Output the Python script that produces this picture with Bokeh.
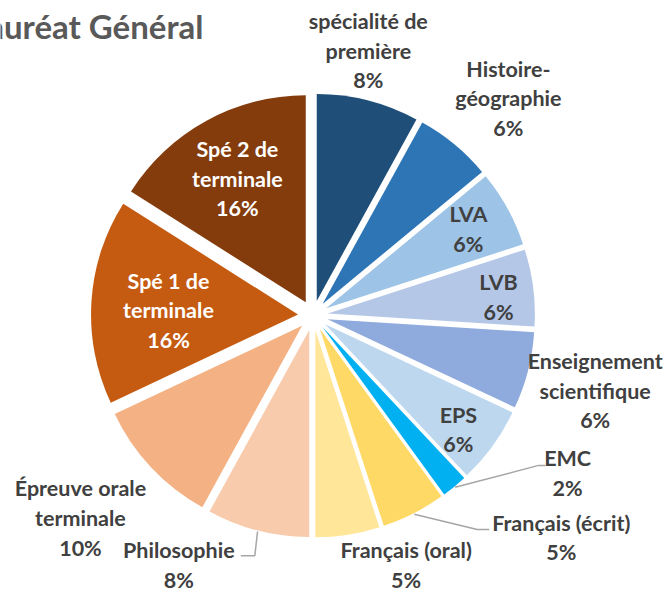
import math
from bokeh.plotting import figure
from bokeh.models import ColumnDataSource
from bokeh.core.properties import value
from bokeh.embed import file_html
from bokeh.resources import INLINE

# ---- data ----
title_text = "Baccalauréat Général"
categories = ["spécialité de première", "Histoire-géographie", "LVA", "LVB",
              "Enseignement scientifique", "EPS", "EMC", "Français (écrit)",
              "Français (oral)", "Philosophie", "Épreuve orale terminale",
              "Spé 1 de terminale", "Spé 2 de terminale"]
shares = [8, 6, 6, 6, 6, 6, 2, 5, 5, 8, 10, 16, 16]

# ---- style / layout ----
colors = ["#1F4E79", "#2E75B6", "#9DC3E6", "#B4C7E7", "#8FAADC", "#BDD7EE",
          "#00B0F0", "#FFD966", "#FFE699", "#F8CBAD", "#F4B183", "#C55A11",
          "#843C0C"]
wrapped = {"spécialité de première": "spécialité de\npremière",
           "Histoire-géographie": "Histoire-\ngéographie",
           "Enseignement scientifique": "Enseignement\nscientifique",
           "Épreuve orale terminale": "Épreuve orale\nterminale",
           "Spé 1 de terminale": "Spé 1 de\nterminale",
           "Spé 2 de terminale": "Spé 2 de\nterminale"}
label_colors = ["#404040"] * 11 + ["white", "white"]
# label anchor in polar coords (degrees clockwise from top, distance px)
label_polar = [(11.8, 270.7), (42.0, 292.0), (61.0, 177.7), (84.2, 186.5),
               (104.9, 292.0), (128.1, 184.8), (121.8, 299.6), (131.8, 333.0),
               (159.5, 266.0), (208.3, 283.0), (228.9, 308.6), (272.0, 144.6),
               (331.1, 156.4)]
# leader lines: slice index -> (elbow offset, end offset) relative to label anchor
leaders = {6: ((-29, 8), (-22, 8)), 7: ((-84, 8), (-72, 8)), 9: ((76, 9), (62, 9))}

W, H = 670, 592
CX, CY = 312.5, 277.0
R = 207.0
EXPLODE = 15.0
FONT = value("Lato")

p = figure(width=W, height=H, x_range=(0, W), y_range=(0, H),
           x_axis_type=None, y_axis_type=None, toolbar_location=None,
           output_backend="svg", min_border=0, outline_line_color=None)
p.grid.visible = False
p.background_fill_color = "white"

total = sum(shares)
starts, ends, xs, ys, mids = [], [], [], [], []
acc = 0.0
for s in shares:
    a0 = acc / total * 360.0
    a1 = (acc + s) / total * 360.0
    m = (a0 + a1) / 2
    acc += s
    mids.append(m)
    starts.append(math.radians(90 - a0))
    ends.append(math.radians(90 - a1))
    xs.append(CX + EXPLODE * math.sin(math.radians(m)))
    ys.append(CY + EXPLODE * math.cos(math.radians(m)))

src = ColumnDataSource(dict(x=xs, y=ys, start=starts, end=ends, color=colors))
p.wedge(x="x", y="y", radius=R, start_angle="start", end_angle="end",
        direction="clock", fill_color="color", line_color=None, source=src)

# labels
lx, ly, lt = [], [], []
for i, (cat, s) in enumerate(zip(categories, shares)):
    ang, dist = label_polar[i]
    lx.append(CX + dist * math.sin(math.radians(ang)))
    ly.append(CY + dist * math.cos(math.radians(ang)))
    lt.append(wrapped.get(cat, cat) + "\n" + f"{s}%")

# leader lines
for i, (elb, end) in leaders.items():
    m = math.radians(mids[i])
    sx = CX + (R + EXPLODE + 1) * math.sin(m)
    sy = CY + (R + EXPLODE + 1) * math.cos(m)
    p.line([sx, lx[i] + elb[0], lx[i] + end[0]],
           [sy, ly[i] + elb[1], ly[i] + end[1]],
           line_color="#A6A6A6", line_width=1.5)

lsrc = ColumnDataSource(dict(x=lx, y=ly, text=lt, color=label_colors))
p.text(x="x", y="y", text="text", source=lsrc, text_align="center",
       text_baseline="middle", text_font=FONT, text_font_style="bold",
       text_font_size="21.5px", text_color="color", text_line_height=1.15)

# title (clipped at left like the reference)
p.text(x=[203], y=[567], text=[title_text], text_align="right",
       text_baseline="alphabetic", text_font=FONT, text_font_style="bold",
       text_font_size="33px", text_color="#595959")

open("out.html", "w").write(file_html(p, INLINE))
